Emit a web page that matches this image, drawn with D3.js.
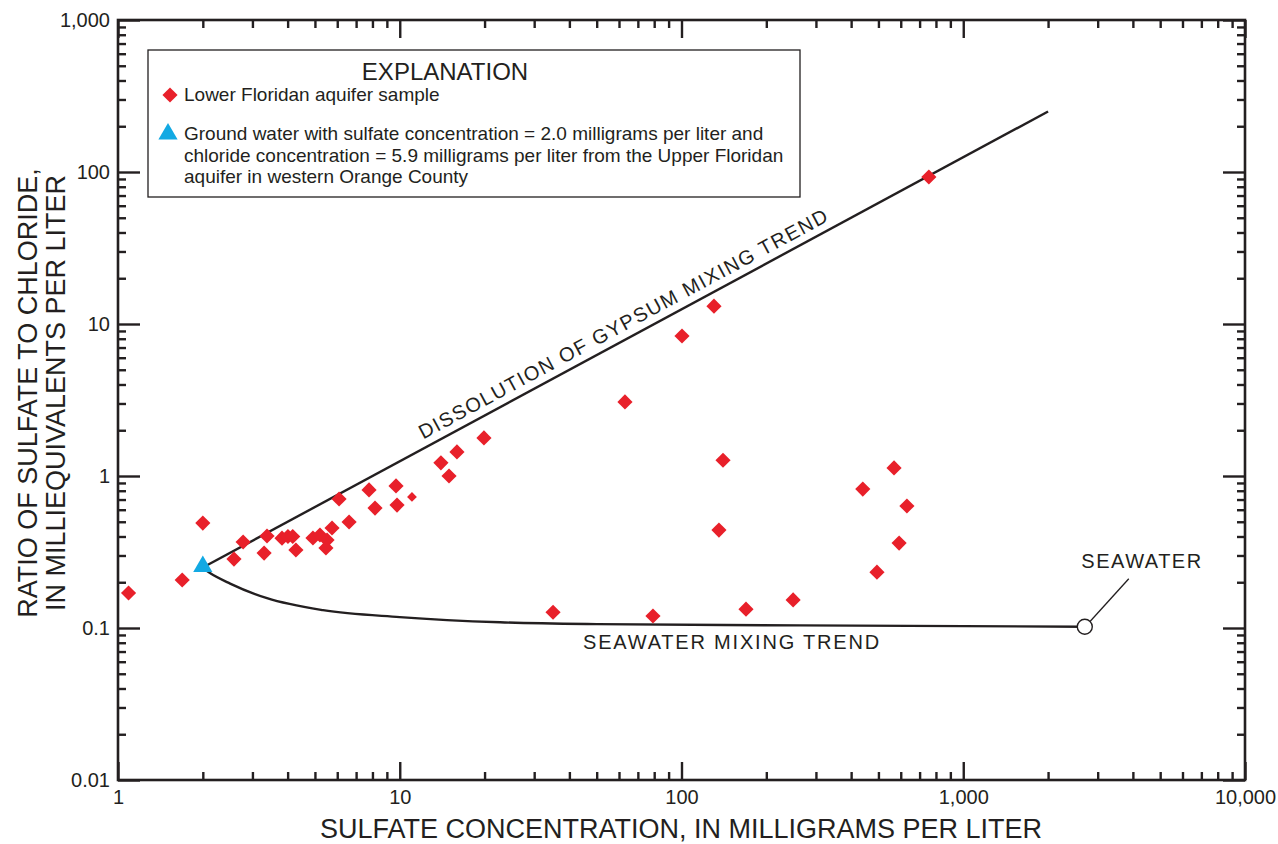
<!DOCTYPE html>
<meta charset="utf-8">
<style>
  body { margin: 0; background: #fff; }
  svg text { font-family: "Liberation Sans", Arial, Helvetica, sans-serif; fill: #231f20; }
</style>
<svg width="1278" height="844"></svg>
<script src="https://d3js.org/d3.v7.min.js"></script>
<script>

// Lower Floridan aquifer samples (sulfate mg/L, SO4/Cl ratio meq/L)
var sulfate = [1.09, 1.69, 2.0, 2.58, 2.78, 3.30, 3.38, 3.82, 4.01, 4.17, 4.28, 4.92, 5.21, 5.52,
  5.75, 5.47, 6.09, 6.61, 7.78, 8.17, 9.70, 9.78, 14.0, 14.96, 15.96, 19.9, 35.0, 63.0, 79.2,
  100.4, 130.4, 140.4, 135.8, 169.4, 249, 440, 568, 631, 592, 494, 755];
var ratio = [0.170, 0.207, 0.49, 0.284, 0.368, 0.311, 0.403, 0.39, 0.40, 0.40, 0.326, 0.391, 0.409, 0.379,
  0.455, 0.336, 0.706, 0.498, 0.81, 0.615, 0.86, 0.644, 1.22, 1.0, 1.44, 1.78, 0.127, 3.07, 0.120,
  8.34, 13.1, 1.27, 0.441, 0.133, 0.153, 0.82, 1.13, 0.635, 0.362, 0.233, 92.7];
// one sample drawn with a smaller symbol
var smallSulfate = [11.05];
var smallRatio = [0.728];

// Upper Floridan ground water end member
var upperSulfate = [2.0];
var upperRatio = [0.25];

// trend lines
var gypsumSulfate = [2.0, 2000];
var gypsumRatio = [0.25, 250];
var seaSulfate = [2.0, 2.12, 2.5, 3.38, 5.34, 10, 22.7, 50, 263, 2700];
var seaRatio = [0.248, 0.230, 0.196, 0.157, 0.131, 0.118, 0.109, 0.106, 0.104, 0.102];
var seawater = [2700, 0.102];

var xMajor = [1, 10, 100, 1000, 10000];
var xLabels = ["1", "10", "100", "1,000", "10,000"];
var yMajor = [0.01, 0.1, 1, 10, 100, 1000];
var yLabels = ["0.01", "0.1", "1", "10", "100", "1,000"];

var svg = d3.select("svg");
var plotL = 118, plotR = 1245, plotT = 20, plotB = 780;
var ink = "#231f20", red = "#e8202a", blue = "#12a9e3";

var x = d3.scaleLog().domain([1, 10000]).range([plotL, plotR]);
var y = d3.scaleLog().domain([0.01, 1000]).range([plotB, plotT]);

var xMinor = x.ticks().filter(function(d){ return xMajor.indexOf(d) < 0; });
var yMinor = y.ticks().filter(function(d){ return yMajor.indexOf(+d.toPrecision(3)) < 0; });

function styleAxis(g) {
  g.select(".domain").remove();
  g.selectAll(".tick line").attr("stroke", ink).attr("stroke-width", 2.4);
  g.selectAll(".tick text").style("font-size", "20px").attr("fill", ink);
}

// bottom
svg.append("g").attr("transform", "translate(0," + plotB + ")")
  .call(d3.axisBottom(x).tickValues(xMajor).tickSize(-18).tickPadding(10)
    .tickFormat(function(d, i){ return xLabels[i]; })).call(styleAxis);
svg.append("g").attr("transform", "translate(0," + plotB + ")")
  .call(d3.axisBottom(x).tickValues(xMinor).tickSize(-8).tickFormat("")).call(styleAxis);
// top
svg.append("g").attr("transform", "translate(0," + plotT + ")")
  .call(d3.axisTop(x).tickValues(xMajor).tickSize(-18).tickFormat("")).call(styleAxis);
svg.append("g").attr("transform", "translate(0," + plotT + ")")
  .call(d3.axisTop(x).tickValues(xMinor).tickSize(-8).tickFormat("")).call(styleAxis);
// left
svg.append("g").attr("transform", "translate(" + plotL + ",0)")
  .call(d3.axisLeft(y).tickValues(yMajor).tickSize(-22).tickPadding(8)
    .tickFormat(function(d, i){ return yLabels[i]; })).call(styleAxis);
svg.append("g").attr("transform", "translate(" + plotL + ",0)")
  .call(d3.axisLeft(y).tickValues(yMinor).tickSize(-8).tickFormat("")).call(styleAxis);
// right
svg.append("g").attr("transform", "translate(" + plotR + ",0)")
  .call(d3.axisRight(y).tickValues(yMajor).tickSize(-22).tickFormat("")).call(styleAxis);
svg.append("g").attr("transform", "translate(" + plotR + ",0)")
  .call(d3.axisRight(y).tickValues(yMinor).tickSize(-8).tickFormat("")).call(styleAxis);

svg.append("rect").attr("x", plotL).attr("y", plotT)
  .attr("width", plotR - plotL).attr("height", plotB - plotT)
  .attr("fill", "none").attr("stroke", ink).attr("stroke-width", 2.6);

// axis titles
svg.append("text").attr("x", 681).attr("y", 838)
  .attr("text-anchor", "middle").style("font-size", "27px")
  .text("SULFATE CONCENTRATION, IN MILLIGRAMS PER LITER");
var yt = svg.append("text").attr("transform", "translate(37,393) rotate(-90)")
  .attr("text-anchor", "middle").style("font-size", "27px");
yt.append("tspan").attr("x", 0).attr("y", 0).text("RATIO OF SULFATE TO CHLORIDE,");
yt.append("tspan").attr("x", 0).attr("y", 28).text("IN MILLIEQUIVALENTS PER LITER");

// trend lines
var line = d3.line().x(function(d){ return x(d[0]); }).y(function(d){ return y(d[1]); });
svg.append("path").datum(d3.zip(gypsumSulfate, gypsumRatio))
  .attr("d", line).attr("fill", "none").attr("stroke", ink).attr("stroke-width", 2.4);
svg.append("path").datum(d3.zip(seaSulfate, seaRatio))
  .attr("d", line.curve(d3.curveMonotoneX)).attr("fill", "none").attr("stroke", ink).attr("stroke-width", 2.4);

// gypsum label along the line
var ang = Math.atan2(y(gypsumRatio[1]) - y(gypsumRatio[0]), x(gypsumSulfate[1]) - x(gypsumSulfate[0])) * 180 / Math.PI;
var gs = 66;
svg.append("text")
  .attr("transform", "translate(" + x(gs) + "," + y(gypsumRatio[0] * gs / gypsumSulfate[0]) + ") rotate(" + ang + ")")
  .attr("text-anchor", "middle").attr("dy", -8)
  .style("font-size", "20px").style("letter-spacing", "1.5px")
  .text("DISSOLUTION OF GYPSUM MIXING TREND");

svg.append("text").attr("x", 732).attr("y", 649).attr("text-anchor", "middle")
  .style("font-size", "20px").style("letter-spacing", "1.8px").text("SEAWATER MIXING TREND");

// seawater end member
var sx = x(seawater[0]), sy = y(seawater[1]);
svg.append("line").attr("x1", sx + 5).attr("y1", sy - 5).attr("x2", sx + 44).attr("y2", sy - 48)
  .attr("stroke", ink).attr("stroke-width", 1.3);
svg.append("circle").attr("cx", sx).attr("cy", sy).attr("r", 7.5)
  .attr("fill", "#fff").attr("stroke", ink).attr("stroke-width", 1.4);
svg.append("text").attr("x", 1142).attr("y", 568).attr("text-anchor", "middle")
  .style("font-size", "20px").style("letter-spacing", "1.5px").text("SEAWATER");

// symbols
var diamond = d3.symbol().type(d3.symbolSquare).size(115);
var smallDiamond = d3.symbol().type(d3.symbolSquare).size(48);
var tri = d3.symbol().type(d3.symbolTriangle).size(160);

svg.append("g").selectAll("path").data(d3.zip(sulfate, ratio)).join("path")
  .attr("d", diamond).attr("fill", red)
  .attr("transform", function(d){ return "translate(" + x(d[0]) + "," + y(d[1]) + ") rotate(45)"; });
svg.append("g").selectAll("path").data(d3.zip(smallSulfate, smallRatio)).join("path")
  .attr("d", smallDiamond).attr("fill", red)
  .attr("transform", function(d){ return "translate(" + x(d[0]) + "," + y(d[1]) + ") rotate(45)"; });
svg.append("g").selectAll("path").data(d3.zip(upperSulfate, upperRatio)).join("path")
  .attr("d", tri).attr("fill", blue)
  .attr("transform", function(d){ return "translate(" + x(d[0]) + "," + (y(d[1]) - 1) + ")"; });

// explanation box
var lg = svg.append("g");
lg.append("rect").attr("x", 148).attr("y", 50).attr("width", 652).attr("height", 147)
  .attr("fill", "#fff").attr("stroke", ink).attr("stroke-width", 1.3);
lg.append("text").attr("x", 445).attr("y", 80).attr("text-anchor", "middle")
  .style("font-size", "24px").text("EXPLANATION");
lg.append("path").attr("d", diamond).attr("fill", red).attr("transform", "translate(170,95) rotate(45)");
lg.append("text").attr("x", 184).attr("y", 101).style("font-size", "19px").text("Lower Floridan aquifer sample");
lg.append("path").attr("d", tri).attr("fill", blue).attr("transform", "translate(168,134)");
var lt = lg.append("text").style("font-size", "19px");
["Ground water with sulfate concentration = 2.0 milligrams per liter and",
 "chloride concentration = 5.9 milligrams per liter from the Upper Floridan",
 "aquifer in western Orange County"].forEach(function(s, i){
  lt.append("tspan").attr("x", 184).attr("y", 140 + i * 21.5).text(s);
});

</script>
